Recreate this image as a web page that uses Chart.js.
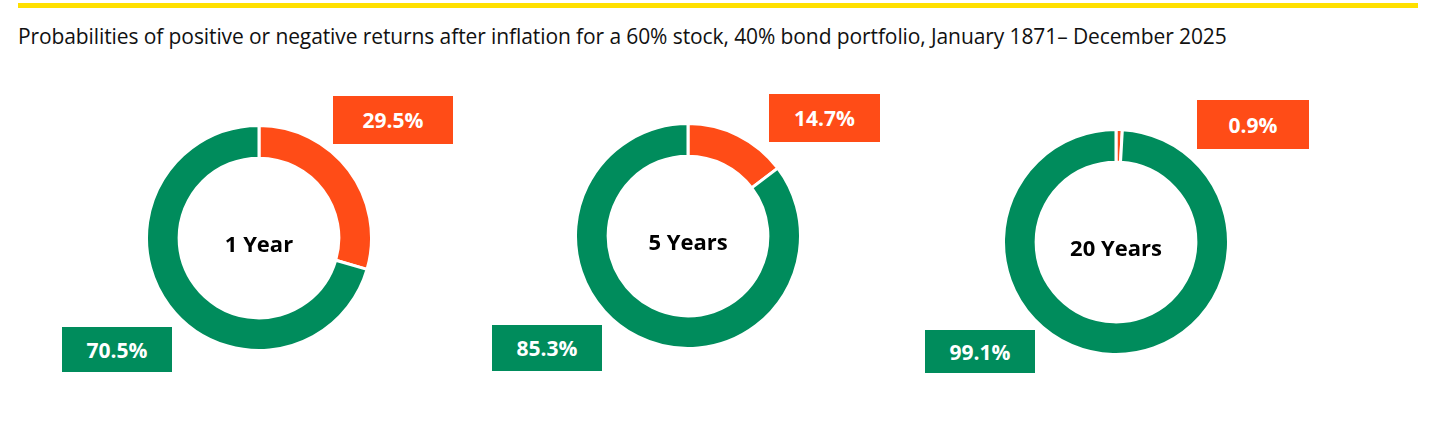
<!DOCTYPE html>
<html><head><meta charset="utf-8">
<script src="https://cdn.jsdelivr.net/npm/chart.js@4"></script>
<style>
body{margin:0;width:1440px;height:423px;background:#fff;font-family:"Open Sans","Noto Sans",sans-serif;position:relative;overflow:hidden}
#bar{position:absolute;left:18px;top:3px;width:1400px;height:5px;background:#ffe000}
#title{position:absolute;left:18px;top:22px;font-size:21px;color:#111;white-space:nowrap;letter-spacing:-0.1px}
.wrap{position:absolute;width:228px;height:228px}
.center{position:absolute;font-weight:bold;font-size:22px;color:#000;transform:translate(-50%,-50%);white-space:nowrap}
.lab{position:absolute;color:#fff;font-weight:bold;font-size:21px;display:flex;align-items:center;justify-content:center}
</style></head><body>
<div id="bar"></div>
<div id="title">Probabilities of positive or negative returns after inflation for a 60% stock, 40% bond portfolio, January 1871– December 2025</div>
<script>
const periods=["1 Year","5 Years","20 Years"];
const negative=[29.5,14.7,0.9];
const positive=[70.5,85.3,99.1];
const centers=[[259,238],[688,236],[1116,242]];
const negBoxes=[[333,96,120,48],[769,94,111,48],[1197,100,112,49]];
const posBoxes=[[62,327,110,45],[492,325,110,46],[925,330,110,43]];
const GREEN="#008c5c", ORANGE="#ff4c17";
periods.forEach((p,i)=>{
  const [cx,cy]=centers[i];
  const w=document.createElement('div');w.className='wrap';
  w.style.left=(cx-114)+'px';w.style.top=(cy-114)+'px';
  const c=document.createElement('canvas');w.appendChild(c);document.body.appendChild(w);
  new Chart(c,{type:'doughnut',data:{labels:['Negative','Positive'],datasets:[{data:[negative[i],positive[i]],backgroundColor:[ORANGE,GREEN],borderColor:'#fff',borderWidth:3}]},
    options:{responsive:true,maintainAspectRatio:false,animation:false,cutout:'71%',plugins:{legend:{display:false},tooltip:{enabled:false}}}});
  const t=document.createElement('div');t.className='center';t.textContent=p;t.style.left=cx+'px';t.style.top=(cy+5)+'px';document.body.appendChild(t);
  [[negBoxes[i],ORANGE,negative[i]],[posBoxes[i],GREEN,positive[i]]].forEach(([b,col,v])=>{
    const d=document.createElement('div');d.className='lab';
    d.style.left=b[0]+'px';d.style.top=b[1]+'px';d.style.width=b[2]+'px';d.style.height=b[3]+'px';d.style.background=col;
    d.textContent=v.toFixed(1)+'%';document.body.appendChild(d);
  });
});
</script>
</body></html>
